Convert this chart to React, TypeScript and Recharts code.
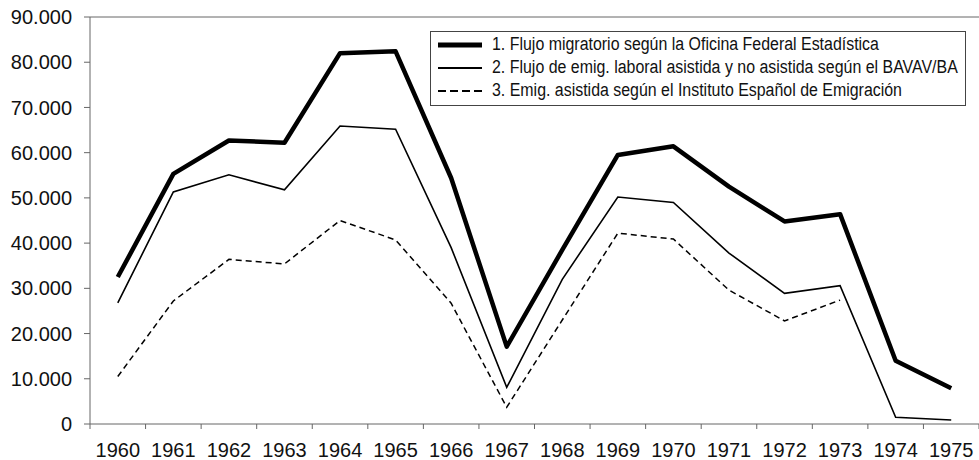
import React from "react";
import { Line, LineChart, ReferenceLine, XAxis, YAxis } from "recharts";

const years = [
  1960, 1961, 1962, 1963, 1964, 1965, 1966, 1967, 1968, 1969, 1970, 1971,
  1972, 1973, 1974, 1975,
];

// 1. Oficina Federal Estadística
const flujoFederal = [
  32500, 55300, 62700, 62200, 82000, 82400, 54400, 17100, 38500, 59500, 61400,
  52500, 44800, 46400, 14000, 7900,
];

// 2. BAVAV/BA
const flujoBavav = [
  26800, 51300, 55100, 51800, 65900, 65200, 39000, 8100, 32000, 50200, 49000,
  37800, 28900, 30600, 1500, 900,
];

// 3. Instituto Español de Emigración (no data 1974-75)
const emigAsistida: (number | null)[] = [
  10500, 27200, 36400, 35400, 45000, 40700, 26700, 3700, 23000, 42200, 40900,
  29600, 22800, 27400, null, null,
];

const yTicks = [0, 10000, 20000, 30000, 40000, 50000, 60000, 70000, 80000, 90000];

const legendLabels = [
  "1. Flujo migratorio según la Oficina Federal Estadística",
  "2. Flujo de emig. laboral asistida y no asistida según el BAVAV/BA",
  "3. Emig. asistida según el Instituto Español de Emigración",
];

const data = years.map((year, i) => ({
  year,
  federal: flujoFederal[i],
  bavav: flujoBavav[i],
  asistida: emigAsistida[i],
}));

// tick marks sit between the years, labels in the middle of each year
const boundaryTicks = [...years.map((y) => y - 0.5), 1975.5];

const W = 979;
const H = 460;
const LEFT = 90;
const TOP = 17;
const BOTTOM_AXIS = 36;
const band = (W - LEFT) / years.length;

const fmt = (v: number) =>
  v === 0 ? "0" : v.toLocaleString("de-DE", { maximumFractionDigits: 0 });

const axisFont = "Liberation Sans, Arial, Helvetica, sans-serif";

const YearTick = (props: any) => {
  const { x, payload } = props;
  if (payload.value < years[0]) return null;
  const label = Math.round(payload.value - 0.5);
  return (
    <text
      x={x - band / 2}
      y={457}
      textAnchor="middle"
      fontSize={20}
      fontFamily={axisFont}
      fill="#111"
    >
      {label}
    </text>
  );
};

const LegendBox = () => (
  <div
    style={{
      position: "absolute",
      left: 430,
      top: 31,
      width: 534,
      height: 72,
      border: "1px solid #444",
      background: "#fff",
      fontFamily: axisFont,
      fontSize: 18,
      color: "#111",
      paddingTop: 1,
    }}
  >
    {legendLabels.map((label, i) => (
      <div
        key={i}
        style={{ display: "flex", alignItems: "center", height: 23 }}
      >
        <svg width={61} height={10} style={{ flexShrink: 0 }}>
          <line
            x1={7}
            x2={51}
            y1={5}
            y2={5}
            stroke="#000"
            strokeWidth={i === 0 ? 5 : 2}
            strokeDasharray={i === 2 ? "8 4" : undefined}
          />
        </svg>
        <span
          style={{
            whiteSpace: "nowrap",
            display: "inline-block",
            transform: "scaleX(0.885)",
            transformOrigin: "left center",
          }}
        >
          {label}
        </span>
      </div>
    ))}
  </div>
);

export default function App() {
  return (
    <div
      style={{
        position: "absolute",
        left: 0,
        top: 0,
        width: W,
        height: H,
        background: "#fff",
      }}
    >
      <LineChart
        width={W}
        height={H}
        data={data}
        margin={{ top: TOP, right: 0, bottom: 0, left: 0 }}
      >
        <XAxis
          dataKey="year"
          type="number"
          domain={[1959.5, 1975.5]}
          ticks={boundaryTicks}
          interval={0}
          height={BOTTOM_AXIS}
          stroke="#666"
          tickSize={5}
          tick={<YearTick />}
          allowDataOverflow
        />
        <YAxis
          domain={[0, 90000]}
          ticks={yTicks}
          interval={0}
          width={LEFT}
          stroke="#666"
          tickSize={6}
          tickMargin={12}
          tickFormatter={fmt}
          tick={{ fontSize: 20, fill: "#111", fontFamily: axisFont }}
        />
        <ReferenceLine y={90000} stroke="#666" strokeWidth={1} />
        <Line
          dataKey="federal"
          stroke="#000"
          strokeWidth={4.5}
          dot={false}
          isAnimationActive={false}
          strokeLinejoin="round"
        />
        <Line
          dataKey="bavav"
          stroke="#000"
          strokeWidth={1.6}
          dot={false}
          isAnimationActive={false}
        />
        <Line
          dataKey="asistida"
          stroke="#000"
          strokeWidth={1.5}
          strokeDasharray="6 4"
          dot={false}
          isAnimationActive={false}
        />
      </LineChart>
      <LegendBox />
    </div>
  );
}
